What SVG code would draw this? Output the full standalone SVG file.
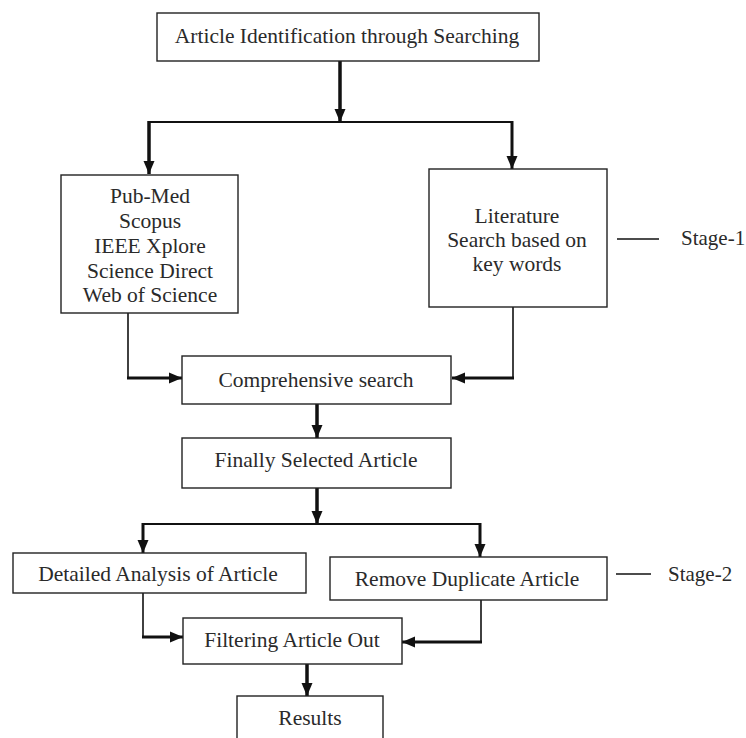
<svg xmlns="http://www.w3.org/2000/svg" width="746" height="738" viewBox="0 0 746 738">
<defs>
<style>
.box{fill:#fff;stroke:#222;stroke-width:1.4}
.t{font-family:"Liberation Serif","Times New Roman",serif;font-size:21.5px;fill:#2a2a2a;text-anchor:middle}
.s{font-family:"Liberation Serif","Times New Roman",serif;font-size:21px;fill:#2a2a2a}
.c{fill:none;stroke:#111;stroke-linecap:butt}
</style>
<marker id="ah" markerUnits="userSpaceOnUse" markerWidth="14" markerHeight="14" viewBox="0 0 14 14" refX="13" refY="7" orient="auto">
<path d="M0,1.5 L13,7 L0,12.5 Z" fill="#111"/>
</marker>
</defs>
<rect width="746" height="738" fill="#fff"/>
<g id="connectors">
<path class="c" stroke-width="3.5" d="M340,61 V122" marker-end="url(#ah)"/>
<path class="c" stroke-width="2" d="M148,122 H513"/>
<path class="c" stroke-width="3.5" d="M149,121 V174" marker-end="url(#ah)"/>
<path class="c" stroke-width="3" d="M512,121 V169" marker-end="url(#ah)"/>
<path class="c" stroke-width="1.6" d="M128,313 V378"/>
<path class="c" stroke-width="3" d="M127,378 H182" marker-end="url(#ah)"/>
<path class="c" stroke-width="1.6" d="M513,307 V378"/>
<path class="c" stroke-width="3" d="M514,378 H452" marker-end="url(#ah)"/>
<path class="c" stroke-width="3.5" d="M317,404 V438" marker-end="url(#ah)"/>
<path class="c" stroke-width="3.5" d="M317,488 V524" marker-end="url(#ah)"/>
<path class="c" stroke-width="2" d="M142,524 H481"/>
<path class="c" stroke-width="3" d="M143,523 V553" marker-end="url(#ah)"/>
<path class="c" stroke-width="3" d="M480,523 V557" marker-end="url(#ah)"/>
<path class="c" stroke-width="1.6" d="M143,593 V637"/>
<path class="c" stroke-width="3" d="M142,637 H183" marker-end="url(#ah)"/>
<path class="c" stroke-width="1.6" d="M481,600 V642"/>
<path class="c" stroke-width="3" d="M482,642 H402" marker-end="url(#ah)"/>
<path class="c" stroke-width="3.5" d="M307,664 V696" marker-end="url(#ah)"/>
<path class="c" stroke-width="1.4" d="M617,239 H659"/>
<path class="c" stroke-width="1.4" d="M616,574 H651"/>
</g>
<g id="n-identification">
<rect class="box" x="157" y="13" width="382" height="48"/>
<text class="t" x="347" y="43">Article Identification through Searching</text>
</g>
<g id="n-databases">
<rect class="box" x="61" y="175" width="177" height="138"/>
<text class="t" x="150" y="203">Pub-Med</text>
<text class="t" x="150" y="228">Scopus</text>
<text class="t" x="150" y="253">IEEE Xplore</text>
<text class="t" x="150" y="278">Science Direct</text>
<text class="t" x="150" y="302">Web of Science</text>
</g>
<g id="n-literature">
<rect class="box" x="429" y="169" width="178" height="138"/>
<text class="t" x="517" y="223">Literature</text>
<text class="t" x="517" y="247">Search based on</text>
<text class="t" x="517" y="271">key words</text>
</g>
<g id="n-stage1">
<text class="s" x="681" y="245">Stage-1</text>
</g>
<g id="n-comprehensive">
<rect class="box" x="182" y="356" width="269" height="48"/>
<text class="t" x="316" y="387">Comprehensive search</text>
</g>
<g id="n-finally">
<rect class="box" x="182" y="438" width="269" height="50"/>
<text class="t" x="316" y="467">Finally Selected Article</text>
</g>
<g id="n-detailed">
<rect class="box" x="13" y="553" width="293" height="40"/>
<text class="t" x="158" y="581">Detailed Analysis of Article</text>
</g>
<g id="n-remove">
<rect class="box" x="330" y="557" width="277" height="43"/>
<text class="t" x="467" y="586">Remove Duplicate Article</text>
</g>
<g id="n-stage2">
<text class="s" x="668" y="581">Stage-2</text>
</g>
<g id="n-filtering">
<rect class="box" x="183" y="618" width="219" height="46"/>
<text class="t" x="292" y="647">Filtering Article Out</text>
</g>
<g id="n-results">
<rect class="box" x="237" y="696" width="146" height="50"/>
<text class="t" x="310" y="725">Results</text>
</g>
</svg>
